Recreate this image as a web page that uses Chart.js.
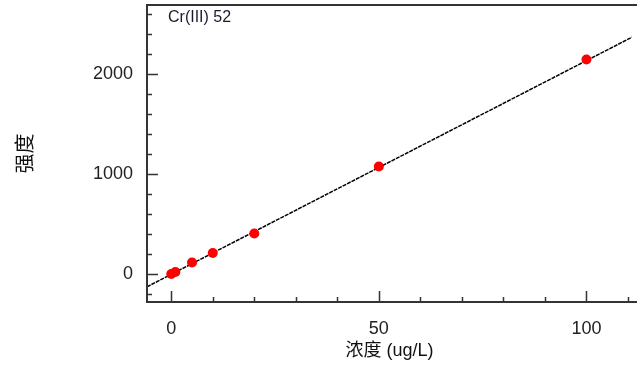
<!DOCTYPE html>
<html><head><meta charset="utf-8">
<script src="https://cdn.jsdelivr.net/npm/chart.js@4.4.0/dist/chart.umd.min.js"></script>
<style>html,body{margin:0;padding:0;background:#fff;overflow:hidden}</style>
</head><body>
<canvas id="c" width="637" height="370"></canvas>
<script>
// ---- data ----
const concentrations = [0, 1, 5, 10, 20, 50, 100];
const intensities = [0, 20, 115, 210, 405, 1075, 2145];
const fitX = [-5.84, 110.97];
const fitY = [-128, 2368];
const xTickLabels = [0, 50, 100];
const yTickLabels = [0, 1000, 2000];
const xMinorTicks = [0, 10, 20, 30, 40, 50, 60, 70, 80, 90, 100, 110];
const yMinorTicks = [-200, 0, 200, 400, 600, 800, 1000, 1200, 1400, 1600, 1800, 2000, 2200, 2400, 2600];
const seriesLabel = 'Cr(III) 52';
const xTitle = '浓度 (ug/L)';
const yTitle = '强度';

const FONT = "'Liberation Sans', Arial, 'Noto Sans CJK SC', sans-serif";

const axesPlugin = {
  id: 'axesPlugin',
  afterDraw(chart) {
    const {ctx, chartArea: a, scales: {x, y}} = chart;
    ctx.save();
    ctx.strokeStyle = '#333';
    ctx.lineWidth = 2;
    ctx.beginPath();
    ctx.moveTo(a.left, a.bottom); ctx.lineTo(a.left, a.top);
    ctx.moveTo(a.left - 1, a.bottom); ctx.lineTo(chart.width, a.bottom);
    ctx.moveTo(a.left - 1, a.top); ctx.lineTo(chart.width, a.top);
    ctx.stroke();
    ctx.lineWidth = 1.5;
    ctx.beginPath();
    xMinorTicks.forEach(v => {
      const px = Math.round(x.getPixelForValue(v)) + 0.5;
      const len = xTickLabels.includes(v) ? 11 : 5;
      ctx.moveTo(px, a.bottom); ctx.lineTo(px, a.bottom - len);
    });
    yMinorTicks.forEach(v => {
      const py = Math.round(y.getPixelForValue(v)) + 0.5;
      const len = yTickLabels.includes(v) ? 11 : 5;
      ctx.moveTo(a.left, py); ctx.lineTo(a.left + len, py);
    });
    ctx.stroke();
    ctx.fillStyle = '#1a1a2e';
    ctx.font = '16px ' + FONT;
    ctx.textBaseline = 'middle';
    ctx.textAlign = 'left';
    ctx.fillText(seriesLabel, a.left + 21, a.top + 13);
    ctx.restore();
  }
};

new Chart(document.getElementById('c'), {
  type: 'scatter',
  data: {
    datasets: [
      {
        label: seriesLabel,
        data: concentrations.map((c, i) => ({x: c, y: intensities[i]})),
        pointRadius: 5,
        pointHoverRadius: 5,
        backgroundColor: '#ff0000',
        borderWidth: 0,
        order: 0
      },
      {
        label: 'fit',
        type: 'line',
        data: fitX.map((v, i) => ({x: v, y: fitY[i]})),
        showLine: true,
        pointRadius: 0,
        borderColor: '#000',
        borderWidth: 1.5,
        borderDash: [4, 1],
        fill: false,
        order: 1
      }
    ]
  },
  options: {
    responsive: false,
    animation: false,
    layout: {padding: {top: 5, right: 0, left: 0, bottom: 0}},
    plugins: {legend: {display: false}, tooltip: {enabled: false}},
    scales: {
      x: {
        type: 'linear',
        min: -5.84, max: 110.97,
        afterBuildTicks: s => { s.ticks = xTickLabels.map(v => ({value: v})); },
        afterFit: s => { s.height = 68; s.paddingLeft = 0; s.paddingRight = 0; },
        grid: {display: false, drawTicks: false},
        border: {display: false},
        ticks: {font: {family: FONT, size: 18}, color: '#222', padding: 16, maxRotation: 0, callback: v => String(v)},
        title: {display: true, text: xTitle, color: '#111', font: {family: FONT, size: 18}, padding: {top: 0, bottom: 8}}
      },
      y: {
        type: 'linear',
        min: -280, max: 2690,
        afterBuildTicks: s => { s.ticks = yTickLabels.map(v => ({value: v})); },
        afterFit: s => { s.width = 147; s.paddingTop = 0; s.paddingBottom = 0; },
        grid: {display: false, drawTicks: false},
        border: {display: false},
        ticks: {font: {family: FONT, size: 18}, color: '#222', padding: 14, callback: v => String(v)},
        title: {display: true, text: yTitle, color: '#111', font: {family: FONT, size: 20}, padding: {top: 14, bottom: 0}}
      }
    }
  },
  plugins: [axesPlugin]
});
</script>
</body></html>
